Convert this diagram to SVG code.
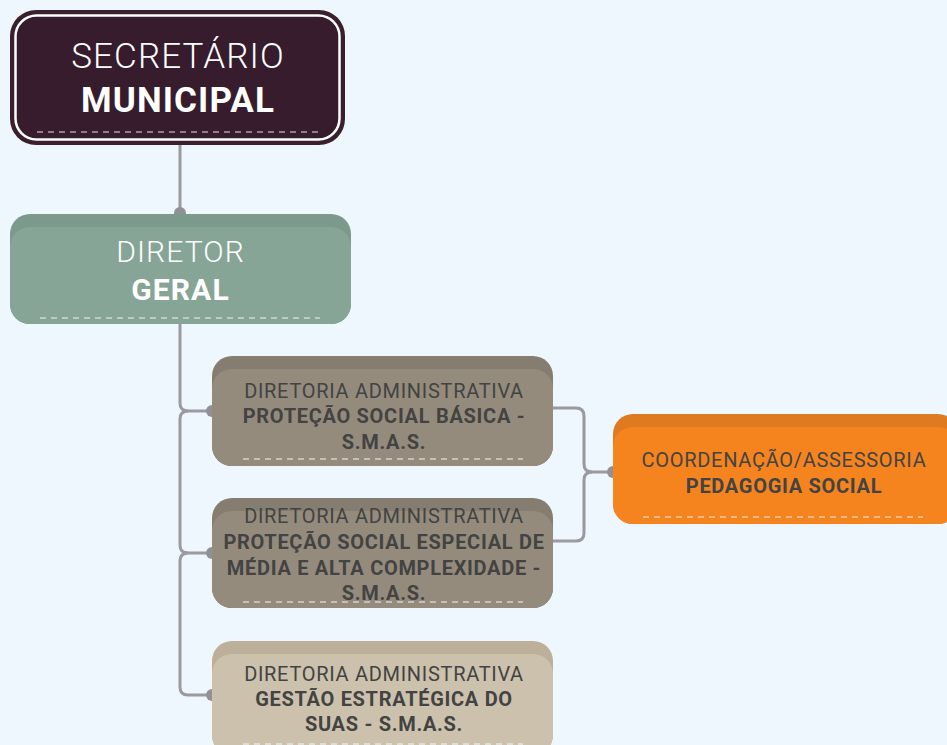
<svg xmlns="http://www.w3.org/2000/svg" width="947" height="745" viewBox="0 0 947 745">
<style>
.t{font-family:Roboto,"Liberation Sans",sans-serif;text-anchor:middle}
.s{letter-spacing:0.7px}
.big{letter-spacing:1.1px}
.lt{font-weight:300}
.b{font-weight:700}
.dk{fill:#434343}
.w{fill:#ffffff}
.dash{stroke:#ffffff;stroke-width:1.2;stroke-dasharray:6 5;opacity:0.9}
.ln{fill:none;stroke:#9a9a9f;stroke-width:3}
.dot{fill:#909096}
</style>
<rect width="947" height="745" fill="#eef7fd"/>
<g id="connectors">
<path class="ln" d="M180 145 V213"/>
<path class="ln" d="M180 324 V403 Q180 411 188 411 H212"/>
<path class="ln" d="M188 411 Q180 411 180 419 V545 Q180 553 188 553 H212"/>
<path class="ln" d="M188 553 Q180 553 180 561 V687 Q180 695 188 695 H212"/>
<path class="ln" d="M553 408 H576 Q584 408 584 416 V464 Q584 472 592 472 H613"/>
<path class="ln" d="M553 541 H576 Q584 541 584 533 V480 Q584 472 592 472"/>
<circle class="dot" cx="180" cy="213" r="6"/>
<circle class="dot" cx="212" cy="411" r="6"/>
<circle class="dot" cx="212" cy="553" r="6"/>
<circle class="dot" cx="212" cy="695" r="6"/>
<circle class="dot" cx="613" cy="472" r="6"/>
</g>
<g id="secretario">
<rect x="10" y="10" width="335" height="135" rx="26" fill="#3b1f2e"/>
<rect x="15.5" y="15.5" width="324" height="124" rx="21" fill="#361c2c" stroke="#ffffff" stroke-width="2.5"/>
<text class="t big lt w" x="178" y="68" font-size="35">SECRETÁRIO</text>
<text class="t big b w" x="178" y="112" font-size="35">MUNICIPAL</text>
<line class="dash" x1="37" y1="132" x2="318" y2="132" style="opacity:1;stroke:#e8e0e4"/>
</g>
<g id="diretor-geral">
<rect x="10" y="214" width="341" height="110" rx="20" fill="#7b9a8b"/>
<rect x="10" y="227" width="341" height="97" rx="20" fill="#86a596"/>
<text class="t big lt w" x="180.5" y="262" font-size="30">DIRETOR</text>
<text class="t big b w" x="180.5" y="300" font-size="30">GERAL</text>
<line class="dash" x1="40" y1="318" x2="320" y2="318"/>
</g>
<g id="protecao-basica">
<rect x="212" y="356" width="341" height="110" rx="20" fill="#857d70"/>
<rect x="212" y="369" width="341" height="97" rx="20" fill="#948b7d"/>
<text class="t s dk" x="384" y="398" font-size="20">DIRETORIA ADMINISTRATIVA</text>
<text class="t s dk b" x="384" y="423" font-size="20">PROTEÇÃO SOCIAL BÁSICA -</text>
<text class="t s dk b" x="384" y="449" font-size="20">S.M.A.S.</text>
<line class="dash" x1="243" y1="459" x2="523" y2="459"/>
</g>
<g id="protecao-especial">
<rect x="212" y="498" width="341" height="110" rx="20" fill="#857d70"/>
<rect x="212" y="511" width="341" height="97" rx="20" fill="#948b7d"/>
<text class="t s dk" x="384" y="523" font-size="20">DIRETORIA ADMINISTRATIVA</text>
<text class="t s dk b" x="384" y="549" font-size="20">PROTEÇÃO SOCIAL ESPECIAL DE</text>
<text class="t s dk b" x="384" y="575" font-size="20">MÉDIA E ALTA COMPLEXIDADE -</text>
<text class="t s dk b" x="384" y="600" font-size="20">S.M.A.S.</text>
<line class="dash" x1="243" y1="602" x2="523" y2="602"/>
</g>
<g id="gestao-estrategica">
<rect x="212" y="641" width="341" height="114" rx="20" fill="#bcb09b"/>
<rect x="212" y="654" width="341" height="101" rx="20" fill="#ccc1ac"/>
<text class="t s dk" x="384" y="681" font-size="20">DIRETORIA ADMINISTRATIVA</text>
<text class="t s dk b" x="384" y="706" font-size="20">GESTÃO ESTRATÉGICA DO</text>
<text class="t s dk b" x="384" y="731" font-size="20">SUAS - S.M.A.S.</text>
<line class="dash" x1="243" y1="744" x2="523" y2="744"/>
</g>
<g id="coordenacao">
<rect x="613" y="414" width="345" height="110" rx="20" fill="#e07a20"/>
<rect x="613" y="427" width="345" height="97" rx="20" fill="#f5841f"/>
<text class="t s dk" x="784" y="467" font-size="20">COORDENAÇÃO/ASSESSORIA</text>
<text class="t s dk b" x="784" y="493" font-size="20">PEDAGOGIA SOCIAL</text>
<line class="dash" x1="643" y1="517" x2="923" y2="517"/>
</g>
</svg>
